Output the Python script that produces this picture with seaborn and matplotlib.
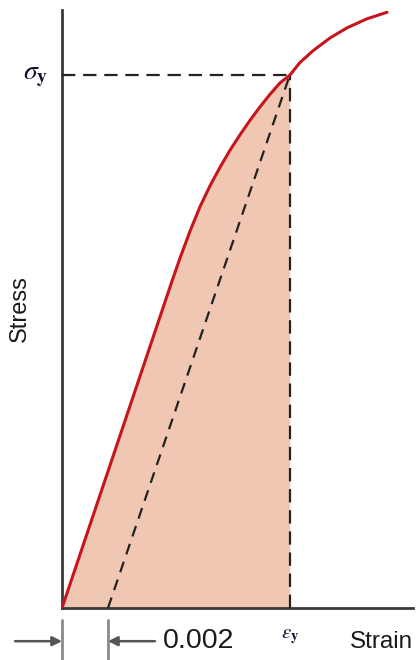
import matplotlib
matplotlib.use("Agg")
import matplotlib.pyplot as plt
import seaborn as sns
import pandas as pd

# Stress-strain curve (strain, stress in MPa)
strain = [0.0, 0.00478, 0.00513, 0.005565, 0.0060, 0.006435, 0.00687, 0.007304,
          0.007739, 0.008174, 0.008609, 0.009043, 0.009478, 0.0099, 0.010348,
          0.010913, 0.011652, 0.012391, 0.013261, 0.01413]
stress = [0.0, 245.3, 262.7, 282.9, 301.3, 317.0, 330.9, 343.7,
          355.3, 366.2, 376.3, 385.7, 394.3, 400.0, 409.6,
          418.4, 428.0, 435.6, 442.4, 447.3]

# Yield point by the 0.2% offset method
offset = 0.002
eps_y = 0.0099
sigma_y = 400.0
n_yield = strain.index(eps_y) + 1

df = pd.DataFrame({"Strain": strain, "Stress": stress})

sns.set_style("white")
plt.rcParams["mathtext.fontset"] = "stix"

fig = plt.figure(figsize=(4.2, 6.6), dpi=100)
ax = fig.add_axes([62 / 420, 52 / 660, 351 / 420, 598 / 660])

red = "#C4161C"
fill = "#EFC7B3"
dash_col = "#222222"

# shaded area under the curve up to the yield strain
ax.fill_between(strain[:n_yield], stress[:n_yield], 0, color=fill, lw=0, zorder=1)

sns.lineplot(data=df, x="Strain", y="Stress", ax=ax, color=red, lw=2.2,
             sort=False, zorder=4)

# offset line parallel to the elastic region
ax.plot([offset, eps_y], [0, sigma_y], color=dash_col, lw=1.6,
        dashes=(5, 3.5), zorder=3)
# guides to the yield point
ax.plot([0, eps_y], [sigma_y, sigma_y], color=dash_col, lw=1.6,
        dashes=(6, 3.5), zorder=3)
ax.plot([eps_y, eps_y], [0, sigma_y], color=dash_col, lw=1.6,
        dashes=(6, 3.5), zorder=3)

ax.set_xlim(0, 0.01526)
ax.set_ylim(0, 449)
ax.set_xticks([])
ax.set_yticks([])
ax.set_xlabel("")
ax.set_ylabel("")
for side in ("top", "right"):
    ax.spines[side].set_visible(False)
for side in ("left", "bottom"):
    ax.spines[side].set_color("#3a3a3a")
    ax.spines[side].set_linewidth(2)

sans = "Liberation Sans"
ax.text(-0.09, 0.5, "Stress", transform=ax.transAxes, rotation=90,
        ha="right", va="center", fontsize=17, family=sans, color="#1a1a1a")
ax.text(1.0, -0.057, "Strain", transform=ax.transAxes, ha="right",
        va="center", fontsize=17.5, family=sans, color="#1a1a1a")
ax.text(-0.04, sigma_y, r"$\sigma_\mathbf{y}$", transform=ax.get_yaxis_transform(),
        ha="right", va="center", fontsize=20, color="#111133")
ax.text(eps_y, -0.047, r"$\varepsilon_\mathbf{y}$", transform=ax.get_xaxis_transform(),
        ha="center", va="center", fontsize=15, color="#111133")

# 0.002 offset dimension
xt = ax.get_xaxis_transform()
for x in (0.0, offset):
    ax.plot([x, x], [-0.02, -0.09], transform=xt, color="#8a8a8a", lw=2,
            clip_on=False)
ax.annotate("", xy=(0.0, -0.0555), xytext=(-0.00204, -0.0555), xycoords=xt,
            textcoords=xt, annotation_clip=False,
            arrowprops=dict(arrowstyle="-|>", color="#555555", lw=1.8,
                            mutation_scale=14, shrinkA=0, shrinkB=0))
ax.annotate("", xy=(offset, -0.0555), xytext=(0.00404, -0.0555), xycoords=xt,
            textcoords=xt, annotation_clip=False,
            arrowprops=dict(arrowstyle="-|>", color="#555555", lw=1.8,
                            mutation_scale=14, shrinkA=0, shrinkB=0))
ax.text(0.0044, -0.0555, "0.002", transform=xt, ha="left", va="center",
        fontsize=20.5, family=sans, color="#1a1a1a")

fig.savefig("out.png", dpi=100)
